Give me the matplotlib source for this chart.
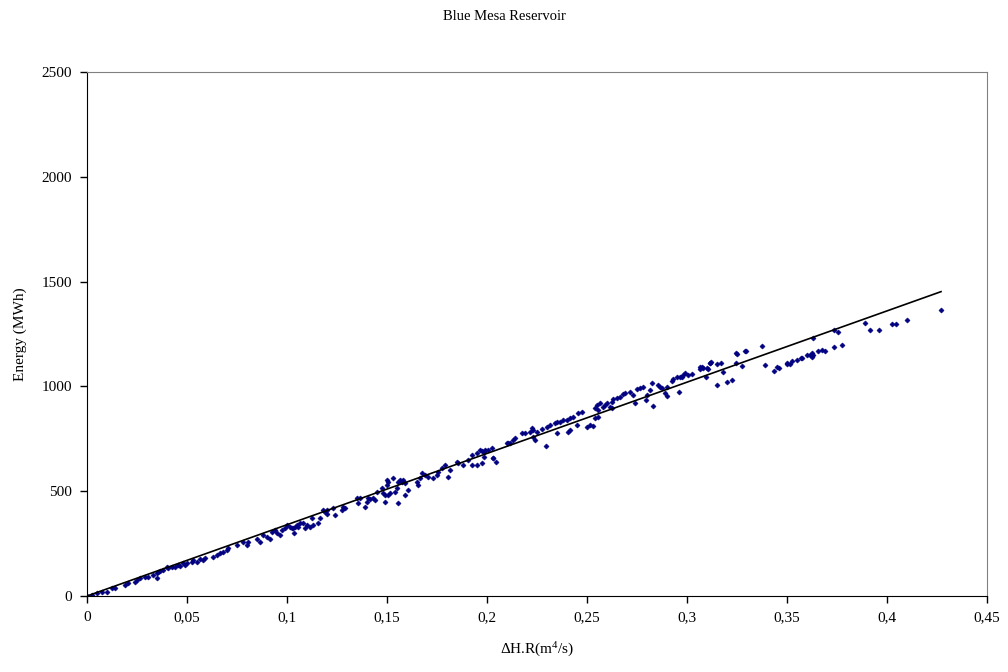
import matplotlib.pyplot as plt
from matplotlib.ticker import FixedLocator, FixedFormatter

plt.rcParams['font.family'] = ['Liberation Serif', 'DejaVu Serif']
plt.rcParams['mathtext.default'] = 'regular'

dhr = [0.0, 0.0023, 0.0048, 0.0073, 0.0098, 0.0123, 0.014, 0.019, 0.0207, 0.024,
       0.0248, 0.0265, 0.029, 0.0307, 0.0332, 0.0348, 0.0348, 0.0357, 0.0365, 0.0382,
       0.0398, 0.0407, 0.0423, 0.044, 0.0457, 0.0465, 0.0482, 0.049, 0.0498, 0.0523,
       0.0532, 0.0548, 0.0565, 0.0582, 0.059, 0.0632, 0.0648, 0.0665, 0.0682, 0.0698,
       0.0707, 0.0748, 0.0782, 0.0798, 0.0807, 0.0848, 0.0865, 0.0882, 0.0898, 0.0915,
       0.0923, 0.094, 0.0948, 0.0965, 0.0973, 0.099, 0.0998, 0.1015, 0.1023, 0.1032,
       0.1035, 0.104, 0.1048, 0.1057, 0.1065, 0.1082, 0.109, 0.1098, 0.1115, 0.1123,
       0.1132, 0.1157, 0.1165, 0.1182, 0.119, 0.1198, 0.1198, 0.1232, 0.124, 0.1273,
       0.1282, 0.129, 0.1348, 0.1357, 0.1365, 0.139, 0.1398, 0.1407, 0.1415, 0.1432,
       0.144, 0.145, 0.1473, 0.1482, 0.149, 0.149, 0.1498, 0.1498, 0.1507, 0.1507,
       0.1515, 0.1532, 0.154, 0.1548, 0.1557, 0.1557, 0.1565, 0.1573, 0.1582, 0.159,
       0.159, 0.1607, 0.1648, 0.1657, 0.1665, 0.1673, 0.169, 0.1707, 0.1732, 0.1748,
       0.1757, 0.1773, 0.179, 0.1807, 0.1815, 0.1848, 0.1857, 0.1882, 0.1907, 0.1923,
       0.1923, 0.1948, 0.1948, 0.1965, 0.1973, 0.1973, 0.1983, 0.1985, 0.199, 0.2007,
       0.2023, 0.2028, 0.2032, 0.2045, 0.2098, 0.2107, 0.2115, 0.2132, 0.214, 0.2173,
       0.219, 0.2215, 0.2223, 0.2232, 0.2232, 0.224, 0.2248, 0.2273, 0.2293, 0.2298,
       0.2315, 0.234, 0.2348, 0.2348, 0.2365, 0.2382, 0.2398, 0.2407, 0.2415, 0.2415,
       0.2432, 0.2448, 0.2457, 0.2473, 0.2498, 0.2515, 0.2532, 0.254, 0.254, 0.2548,
       0.2557, 0.2557, 0.2565, 0.2578, 0.259, 0.2598, 0.2615, 0.2623, 0.2623, 0.2632,
       0.2648, 0.2665, 0.2682, 0.269, 0.2715, 0.2732, 0.274, 0.2748, 0.2765, 0.2782,
       0.2793, 0.2798, 0.2815, 0.2823, 0.2828, 0.2857, 0.2865, 0.2873, 0.289, 0.2898,
       0.2898, 0.2923, 0.2932, 0.2948, 0.296, 0.2965, 0.2973, 0.2982, 0.299, 0.3007,
       0.3023, 0.3065, 0.3065, 0.3073, 0.308, 0.3095, 0.3098, 0.3103, 0.3115, 0.3117,
       0.3122, 0.3148, 0.315, 0.3168, 0.318, 0.3198, 0.3223, 0.3245, 0.3245, 0.3248,
       0.3275, 0.329, 0.3295, 0.3373, 0.3392, 0.3437, 0.3452, 0.346, 0.3498, 0.3502,
       0.3515, 0.3523, 0.3548, 0.3568, 0.3577, 0.3598, 0.3615, 0.3623, 0.3625, 0.3628,
       0.3632, 0.3657, 0.3673, 0.369, 0.3733, 0.3735, 0.3755, 0.3775, 0.389, 0.3915,
       0.396, 0.4025, 0.4043, 0.410, 0.4268]
energy = [0, 5, 13, 21, 21, 37, 37, 52, 61, 68,
          76, 84, 92, 92, 100, 84, 108, 116, 121, 124,
          137, 132, 137, 140, 148, 143, 156, 148, 156, 164,
          172, 164, 175, 172, 180, 187, 196, 204, 211, 219,
          228, 243, 259, 243, 259, 271, 259, 291, 280, 271,
          307, 315, 299, 291, 315, 323, 339, 331, 323, 323,
          299, 331, 339, 331, 347, 347, 323, 339, 331, 371,
          339, 347, 371, 410, 402, 410, 390, 418, 386, 410,
          426, 418, 469, 442, 466, 426, 450, 466, 461, 466,
          458, 498, 514, 490, 482, 450, 553, 530, 545, 482,
          490, 562, 498, 514, 545, 445, 553, 545, 553, 538,
          482, 506, 545, 530, 562, 585, 577, 569, 562, 577,
          593, 609, 625, 569, 601, 641, 633, 625, 649, 673,
          625, 681, 625, 697, 693, 633, 689, 665, 697, 697,
          705, 660, 657, 641, 728, 728, 731, 744, 752, 776,
          776, 784, 800, 792, 760, 744, 784, 795, 716, 808,
          816, 824, 832, 779, 832, 840, 840, 784, 848, 792,
          855, 816, 872, 879, 808, 816, 811, 899, 848, 911,
          887, 853, 919, 903, 911, 919, 903, 927, 895, 938,
          943, 951, 964, 970, 975, 959, 919, 986, 991, 999,
          935, 959, 983, 1015, 906, 1007, 999, 991, 967, 999,
          954, 1027, 1035, 1046, 975, 1043, 1046, 1054, 1062, 1054,
          1058, 1091, 1083, 1094, 1089, 1046, 1086, 1085, 1110, 1110,
          1118, 1007, 1107, 1113, 1070, 1022, 1029, 1158, 1113, 1155,
          1096, 1170, 1168, 1194, 1102, 1073, 1094, 1086, 1105, 1110,
          1105, 1121, 1126, 1134, 1134, 1148, 1148, 1142, 1158, 1150,
          1231, 1167, 1175, 1170, 1187, 1269, 1260, 1199, 1304, 1269,
          1271, 1299, 1299, 1315, 1364]

# fitted trend line end points
trend_x = [0.0, 0.427]
trend_y = [0, 1452]

xticks = [0, 0.05, 0.1, 0.15, 0.2, 0.25, 0.3, 0.35, 0.4, 0.45]
xtick_labels = ['0', '0,05', '0,1', '0,15', '0,2', '0,25', '0,3', '0,35', '0,4', '0,45']
yticks = [0, 500, 1000, 1500, 2000, 2500]

fig = plt.figure(figsize=(10.08, 6.72), dpi=100)
ax = fig.add_axes([0.0863, 0.1131, 0.8929, 0.7798])

ax.plot(dhr, energy, linestyle='none', marker='D', markersize=2.6,
        color='#000080', markeredgewidth=0.4, zorder=2)
ax.plot(trend_x, trend_y, color='black', linewidth=1.2, zorder=3)

ax.set_xlim(0, 0.45)
ax.set_ylim(0, 2500)
ax.xaxis.set_major_locator(FixedLocator(xticks))
ax.xaxis.set_major_formatter(FixedFormatter(xtick_labels))
ax.set_yticks(yticks)
ax.tick_params(direction='out', length=5, width=1, labelsize=11, pad=6)

for side in ['top', 'right']:
    ax.spines[side].set_color('#808080')
for side in ['left', 'bottom']:
    ax.spines[side].set_color('black')

ax.set_xlabel('ΔH.R(m$^{4}$/s)', fontsize=11, labelpad=12)
ax.set_ylabel('Energy (MWh)', fontsize=11, labelpad=10)
fig.text(0.5, 0.975, 'Blue Mesa Reservoir', ha='center', va='center', fontsize=10.5)

fig.savefig('out.png', dpi=100)
